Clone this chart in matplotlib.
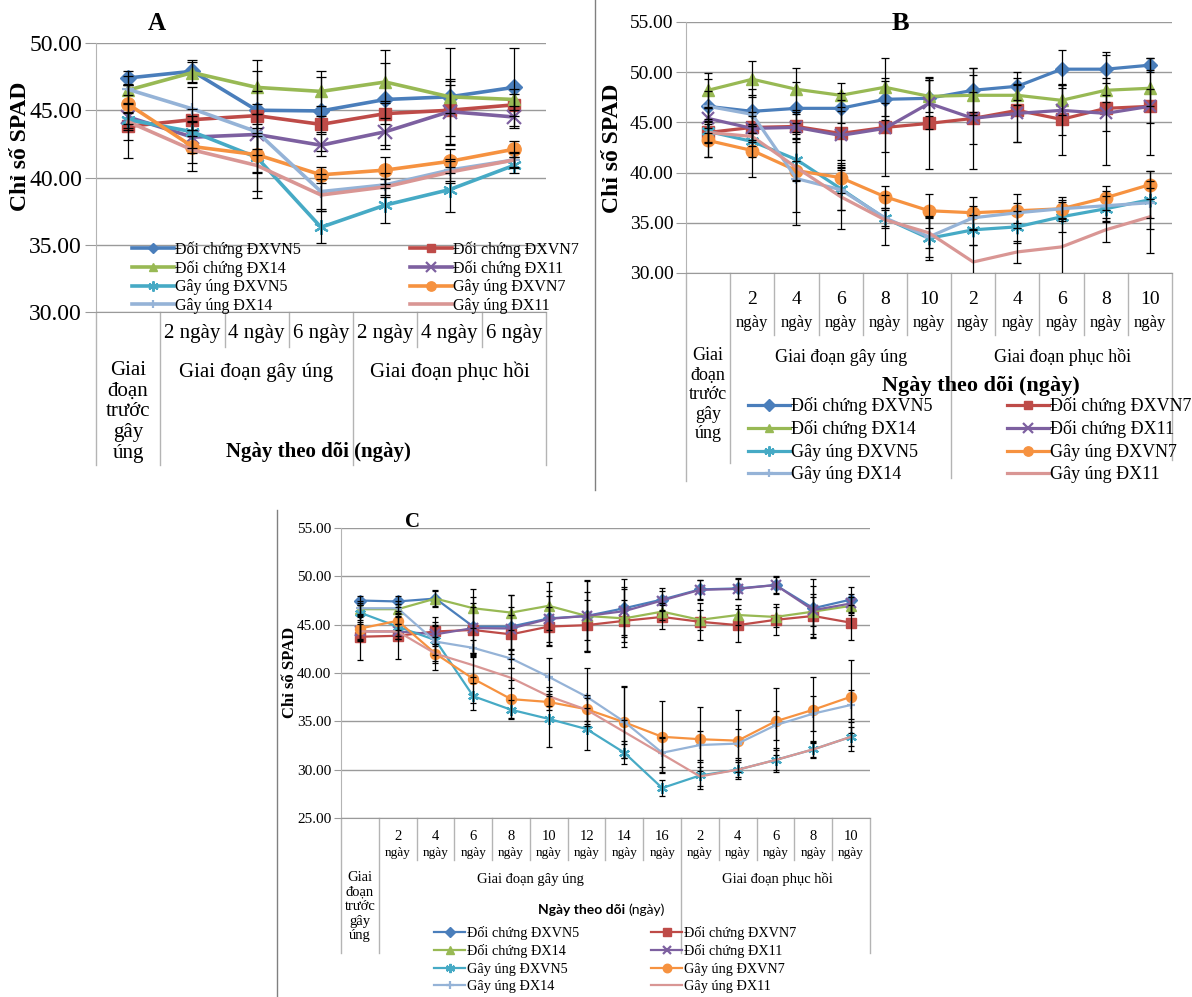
import numpy as np
import matplotlib.pyplot as plt
from matplotlib import transforms
from matplotlib.lines import Line2D

W, H = 1192, 997
plt.rcParams['font.family'] = ['Liberation Serif', 'DejaVu Serif']

names = ['Đối chứng ĐXVN5', 'Đối chứng ĐXVN7', 'Đối chứng ĐX14', 'Đối chứng ĐX11',
         'Gây úng ĐXVN5', 'Gây úng ĐXVN7', 'Gây úng ĐX14', 'Gây úng ĐX11']

# ---- panel A (7 ngay theo doi) ----
a_labels = ['', '2 ngày', '4 ngày', '6 ngày', '2 ngày', '4 ngày', '6 ngày']
a_dc_vn5 = [47.4, 47.9, 45.0, 44.95, 45.8, 46.0, 46.7]
a_dc_vn7 = [43.8, 44.3, 44.6, 43.95, 44.75, 45.0, 45.4]
a_dc_x14 = [46.5, 47.8, 46.7, 46.4, 47.1, 46.0, 45.8]
a_dc_x11 = [44.5, 43.0, 43.2, 42.4, 43.4, 44.9, 44.5]
a_gu_vn5 = [44.3, 43.4, 41.5, 36.3, 37.95, 39.1, 40.9]
a_gu_vn7 = [45.45, 42.3, 41.7, 40.2, 40.55, 41.2, 42.1]
a_gu_x14 = [46.55, 45.1, 43.4, 38.95, 39.45, 40.55, 41.3]
a_gu_x11 = [44.15, 42.05, 40.9, 38.7, 39.3, 40.4, 41.3]
a_err_dc_vn5 = [0.5, 0.8, 2.9, 3.0, 3.7, 3.6, 2.9]
a_err_dc_vn7 = [1.0, 0.8, 0.9, 0.6, 0.8, 1.9, 0.8]
a_err_dc_x14 = [0.4, 0.8, 2.0, 1.1, 1.4, 1.2, 0.8]
a_err_dc_x11 = [1.0, 1.2, 1.5, 0.8, 1.0, 2.4, 0.8]
a_err_gu_vn5 = [0.6, 1.2, 2.5, 1.2, 1.3, 1.7, 0.6]
a_err_gu_vn7 = [1.5, 1.8, 1.4, 0.6, 1.0, 0.9, 0.6]
a_err_gu_x14 = [1.0, 1.6, 3.0, 1.3, 0.9, 0.8, 0.5]
a_err_gu_x11 = [2.7, 1.0, 2.4, 1.2, 0.6, 0.8, 0.6]

# ---- panel B (11 ngay theo doi) ----
b_nums = ['', '2', '4', '6', '8', '10', '2', '4', '6', '8', '10']
b_dc_vn5 = [46.6, 46.1, 46.4, 46.4, 47.3, 47.4, 48.2, 48.6, 50.3, 50.3, 50.7]
b_dc_vn7 = [44.0, 44.5, 44.6, 43.9, 44.5, 44.9, 45.4, 46.2, 45.3, 46.4, 46.6]
b_dc_x14 = [48.2, 49.3, 48.3, 47.7, 48.5, 47.6, 47.7, 47.7, 47.2, 48.2, 48.4]
b_dc_x11 = [45.4, 44.4, 44.5, 43.7, 44.4, 46.9, 45.4, 45.9, 46.2, 45.9, 46.6]
b_gu_vn5 = [44.1, 43.1, 41.3, 38.4, 35.45, 33.45, 34.3, 34.6, 35.6, 36.4, 37.3]
b_gu_vn7 = [43.2, 42.2, 40.2, 39.5, 37.6, 36.2, 36.0, 36.2, 36.4, 37.5, 38.8]
b_gu_x14 = [46.6, 45.8, 39.4, 38.3, 35.5, 33.6, 35.5, 36.0, 36.4, 36.7, 37.0]
b_gu_x11 = [44.0, 43.6, 40.5, 37.6, 35.3, 34.0, 31.1, 32.1, 32.6, 34.3, 35.6]
b_err_dc_vn5 = [2.7, 2.2, 2.6, 1.5, 2.1, 1.8, 2.2, 1.4, 1.9, 1.4, 0.7]
b_err_dc_vn7 = [2.4, 1.5, 1.2, 3.3, 2.4, 4.5, 5.0, 3.2, 3.5, 5.6, 4.8]
b_err_dc_x14 = [1.7, 1.8, 2.1, 1.2, 2.9, 1.6, 2.0, 1.0, 1.5, 1.2, 1.8]
b_err_dc_x11 = [1.0, 1.2, 1.5, 2.4, 4.7, 2.6, 2.6, 2.9, 2.5, 1.8, 1.7]
b_err_gu_vn5 = [1.2, 1.5, 2.0, 2.1, 0.8, 2.2, 1.5, 1.6, 1.5, 1.3, 2.9]
b_err_gu_vn7 = [1.6, 2.6, 1.0, 1.5, 1.1, 1.7, 1.6, 1.7, 0.9, 1.2, 1.4]
b_err_gu_x14 = [1.5, 1.9, 4.6, 2.0, 1.0, 2.0, 1.2, 1.0, 1.2, 1.5, 1.5]
b_err_gu_x11 = [1.0, 1.0, 4.4, 3.2, 2.5, 1.5, 1.7, 1.1, 2.8, 1.2, 3.6]

# ---- panel C (14 ngay theo doi) ----
c_nums = ['', '2', '4', '6', '8', '10', '12', '14', '16', '2', '4', '6', '8', '10']
c_dc_vn5 = [47.5, 47.4, 47.7, 44.8, 44.8, 45.65, 45.9, 46.7, 47.6, 48.65, 48.75, 49.1, 46.7, 47.6]
c_dc_vn7 = [43.75, 43.85, 44.3, 44.45, 44.0, 44.8, 44.95, 45.4, 45.8, 45.3, 44.95, 45.5, 45.9, 45.2]
c_dc_x14 = [46.6, 46.6, 47.7, 46.7, 46.25, 46.95, 45.9, 45.65, 46.35, 45.5, 46.0, 45.8, 46.35, 46.95]
c_dc_x11 = [44.3, 44.3, 44.0, 44.65, 44.6, 45.6, 45.9, 46.4, 47.5, 48.6, 48.7, 49.1, 46.5, 47.2]
c_gu_vn5 = [46.25, 44.8, 43.4, 37.6, 36.2, 35.25, 34.2, 31.75, 28.1, 29.4, 30.0, 31.0, 32.1, 33.4]
c_gu_vn7 = [44.6, 45.4, 42.0, 39.4, 37.3, 37.0, 36.25, 34.9, 33.4, 33.15, 33.0, 35.0, 36.2, 37.55]
c_gu_x14 = [46.7, 46.7, 43.25, 42.6, 41.5, 39.6, 37.55, 34.95, 31.75, 32.55, 32.7, 34.6, 35.8, 36.7]
c_gu_x11 = [44.3, 44.3, 42.0, 40.8, 39.5, 37.6, 36.2, 33.9, 31.6, 29.3, 30.0, 31.0, 32.1, 33.4]
c_err_dc_vn5 = [0.5, 0.6, 0.8, 3.1, 3.3, 2.8, 3.6, 3.0, 1.2, 1.0, 1.1, 0.8, 3.0, 1.3]
c_err_dc_vn7 = [2.4, 2.4, 1.5, 2.4, 2.0, 2.0, 2.65, 2.2, 1.2, 1.9, 1.7, 1.6, 2.3, 1.8]
c_err_dc_x14 = [0.6, 0.5, 0.9, 2.0, 1.8, 2.5, 3.7, 3.0, 0.9, 1.0, 1.0, 1.0, 1.5, 0.9]
c_err_dc_x11 = [1.0, 0.8, 1.0, 2.6, 2.2, 2.4, 2.5, 2.5, 1.0, 1.0, 1.0, 0.9, 2.5, 1.0]
c_err_gu_vn5 = [0.8, 1.0, 1.5, 1.4, 1.0, 2.9, 2.2, 1.2, 0.8, 1.4, 1.0, 1.2, 0.9, 1.5]
c_err_gu_vn7 = [1.2, 1.0, 1.7, 2.5, 2.0, 0.8, 1.2, 3.7, 3.7, 3.3, 3.2, 3.5, 3.4, 3.75]
c_err_gu_x14 = [0.8, 0.8, 2.0, 0.8, 1.0, 2.0, 3.0, 3.7, 1.5, 1.5, 1.5, 1.5, 1.8, 1.5]
c_err_gu_x11 = [0.8, 0.8, 1.0, 1.2, 1.0, 1.0, 1.5, 1.2, 1.8, 1.0, 0.8, 1.0, 0.8, 1.0]

colors = ['#4A7EBB', '#BE4B48', '#98B954', '#7D60A0', '#46AAC5', '#F69240', '#95B3D7', '#D99694']
markers = ['D', 's', '^', 'x', (6, 2, 0), 'o', '+', '']
msize = [1.0, 1.1, 1.1, 1.2, 1.3, 1.2, 1.0, 0]

GRID = '#9A9A9A'
TABLE = '#B4B4B4'

fig = plt.figure(figsize=(W / 100, H / 100), dpi=100)


def fx(px):
    return px / W


def fy(py):
    return 1 - py / H


def add_ax(x0, y0, x1, y1):
    return fig.add_axes([fx(x0), fy(y1), (x1 - x0) / W, (y1 - y0) / H])


def draw_series(ax, means, errs, lw, ms, cap):
    handles = []
    for i, (m, e) in enumerate(zip(means, errs)):
        x = np.arange(len(m))
        ax.errorbar(x, m, yerr=e, fmt='none', ecolor='black', elinewidth=0.9,
                    capsize=cap, capthick=0.9, zorder=4)
        h, = ax.plot(x, m, color=colors[i], lw=lw, marker=markers[i],
                     ms=ms * msize[i], mew=1.6 if i in (3, 4, 6) else 1.0,
                     mec=colors[i], zorder=3, solid_joinstyle='round')
        handles.append(h)
    return handles


def style_axes(ax, n, ylim, step, tick_fs, tick_len):
    ax.set_xlim(-0.5, n - 0.5)
    ax.set_ylim(*ylim)
    ticks = np.arange(ylim[0], ylim[1] + 0.01, step)
    ax.set_yticks(ticks)
    ax.set_yticklabels(['%.2f' % v for v in ticks])
    ax.set_xticks([])
    ax.grid(axis='y', color=GRID, lw=1)
    ax.set_axisbelow(True)
    for s in ('top', 'right'):
        ax.spines[s].set_visible(False)
    ax.spines['left'].set_color(TABLE)
    ax.spines['bottom'].set_color(GRID)
    ax.tick_params(axis='y', direction='out', length=tick_len, color=GRID,
                   labelsize=tick_fs, pad=2)
    ax.patch.set_alpha(0)


def table_lines(ax, bounds_short, bounds_long, y0, y_short, y_long):
    tr = transforms.blended_transform_factory(ax.transData, fig.transFigure)
    for b in bounds_short:
        ax.plot([b, b], [fy(y0), fy(y_short)], transform=tr, color=TABLE, lw=1, clip_on=False)
    for b, yl in zip(bounds_long, y_long):
        ax.plot([b, b], [fy(y0), fy(yl)], transform=tr, color=TABLE, lw=1, clip_on=False)
    return tr


def two_col_legend(handles, fs, x_left, x_right, y_top, hl, ls, mscale):
    order = [[0, 2, 4, 6], [1, 3, 5, 7]]
    for col, xa in zip(order, (x_left, x_right)):
        fig.legend([handles[k] for k in col], [names[k] for k in col],
                   loc='upper left', bbox_to_anchor=(fx(xa), fy(y_top)),
                   bbox_transform=fig.transFigure, frameon=False, fontsize=fs,
                   borderpad=0, borderaxespad=0, handlelength=hl,
                   handletextpad=0.1, labelspacing=ls, numpoints=1,
                   markerscale=mscale)


def series_of(prefix):
    g = globals()
    keys = ['dc_vn5', 'dc_vn7', 'dc_x14', 'dc_x11', 'gu_vn5', 'gu_vn7', 'gu_x14', 'gu_x11']
    return ([g[prefix + '_' + k] for k in keys], [g[prefix + '_err_' + k] for k in keys])


# ================= Panel A =================
axA = add_ax(96, 43, 546, 312)
style_axes(axA, 7, (30, 50), 5, 17, 8)
mA, eA = series_of('a')
hA = draw_series(axA, mA, eA, 2.6, 8, 3.5)
trA = table_lines(axA, [1.5, 2.5, 4.5, 5.5], [-0.5, 0.5, 3.5, 6.5], 312, 347, [465, 465, 465, 465])
for i, lab in enumerate(a_labels):
    axA.text(i, fy(333), lab, transform=trA, ha='center', va='center', fontsize=15)
fig.text(fx(256), fy(372), 'Giai đoạn gây úng', ha='center', va='center', fontsize=15)
fig.text(fx(450), fy(372), 'Giai đoạn phục hồi', ha='center', va='center', fontsize=15)
fig.text(fx(128), fy(361), 'Giai\nđoạn\ntrước\ngây\núng', ha='center', va='top',
         fontsize=15, linespacing=1.12, multialignment='center')
fig.text(fx(318), fy(452), 'Ngày theo dõi (ngày)', ha='center', va='center',
         fontsize=15, fontweight='bold')
fig.text(fx(21), fy(146), 'Chỉ số SPAD', rotation=90, ha='center', va='center',
         fontsize=17, fontweight='bold')
fig.text(fx(157), fy(23), 'A', ha='center', va='center', fontsize=18, fontweight='bold')
two_col_legend(hA, 11.5, 132, 410, 241, 2.6, 0.16, 0.7)

# ================= Panel B =================
axB = add_ax(686, 22, 1172, 273)
style_axes(axB, 11, (30, 55), 5, 14, 7)
mB, eB = series_of('b')
hB = draw_series(axB, mB, eB, 2.3, 7.5, 3)
trB = table_lines(axB, [1.5, 2.5, 3.5, 4.5, 6.5, 7.5, 8.5, 9.5], [-0.5, 0.5, 5.5, 10.5],
                  273, 335, [481, 463, 478, 460])
for i, lab in enumerate(b_nums):
    if lab:
        axB.text(i, fy(299), lab, transform=trB, ha='center', va='center', fontsize=14)
        axB.text(i, fy(323), 'ngày', transform=trB, ha='center', va='center', fontsize=12)
fig.text(fx(841), fy(357), 'Giai đoạn gây úng', ha='center', va='center', fontsize=13)
fig.text(fx(1062), fy(357), 'Giai đoạn phục hồi', ha='center', va='center', fontsize=13)
fig.text(fx(708), fy(347), 'Giai\nđoạn\ntrước\ngây\núng', ha='center', va='top',
         fontsize=13, linespacing=1.2, multialignment='center')
fig.text(fx(981), fy(386), 'Ngày theo dõi (ngày)', ha='center', va='center',
         fontsize=16, fontweight='bold')
fig.text(fx(613), fy(148), 'Chỉ số SPAD', rotation=90, ha='center', va='center',
         fontsize=17, fontweight='bold')
fig.text(fx(900), fy(23), 'B', ha='center', va='center', fontsize=19, fontweight='bold')
two_col_legend(hB, 13, 748, 1007, 397, 2.3, 0.3, 0.75)

# ================= Panel C =================
axC = add_ax(341, 528, 870, 818)
style_axes(axC, 14, (25, 55), 5, 11, 5)
mC, eC = series_of('c')
hC = draw_series(axC, mC, eC, 1.6, 6, 2.5)
trC = table_lines(axC, [1.5, 2.5, 3.5, 4.5, 5.5, 6.5, 7.5, 9.5, 10.5, 11.5, 12.5],
                  [-0.5, 0.5, 8.5, 13.5], 818, 860, [953, 953, 953, 953])
for i, lab in enumerate(c_nums):
    if lab:
        axC.text(i, fy(836), lab, transform=trC, ha='center', va='center', fontsize=10.5)
        axC.text(i, fy(853), 'ngày', transform=trC, ha='center', va='center', fontsize=9.5)
fig.text(fx(530), fy(879), 'Giai đoạn gây úng', ha='center', va='center', fontsize=10.5)
fig.text(fx(777), fy(879), 'Giai đoạn phục hồi', ha='center', va='center', fontsize=10.5)
fig.text(fx(360), fy(871), 'Giai\nđoạn\ntrước\ngây\núng', ha='center', va='top',
         fontsize=10.5, linespacing=1.15, multialignment='center')
fig.text(fx(625), fy(910), 'Ngày theo dõi', ha='right', va='center', fontsize=10,
         fontweight='bold', family=['Lato', 'DejaVu Sans'])
fig.text(fx(628), fy(910), '(ngày)', ha='left', va='center', fontsize=10,
         family=['Lato', 'DejaVu Sans'])
fig.text(fx(290), fy(672), 'Chỉ số SPAD', rotation=90, ha='center', va='center',
         fontsize=12, fontweight='bold')
fig.text(fx(413), fy(522), 'C', ha='center', va='center', fontsize=15, fontweight='bold')
two_col_legend(hC, 10.3, 434, 651, 926, 2.2, 0.3, 0.85)

# frames around panels B and C
fig.add_artist(Line2D([fx(595), fx(595)], [fy(0), fy(490)], transform=fig.transFigure,
                      color='#808080', lw=1))
fig.add_artist(Line2D([fx(277), fx(277)], [fy(510), fy(997)], transform=fig.transFigure,
                      color='#808080', lw=1))

fig.savefig('out.png', dpi=100)
